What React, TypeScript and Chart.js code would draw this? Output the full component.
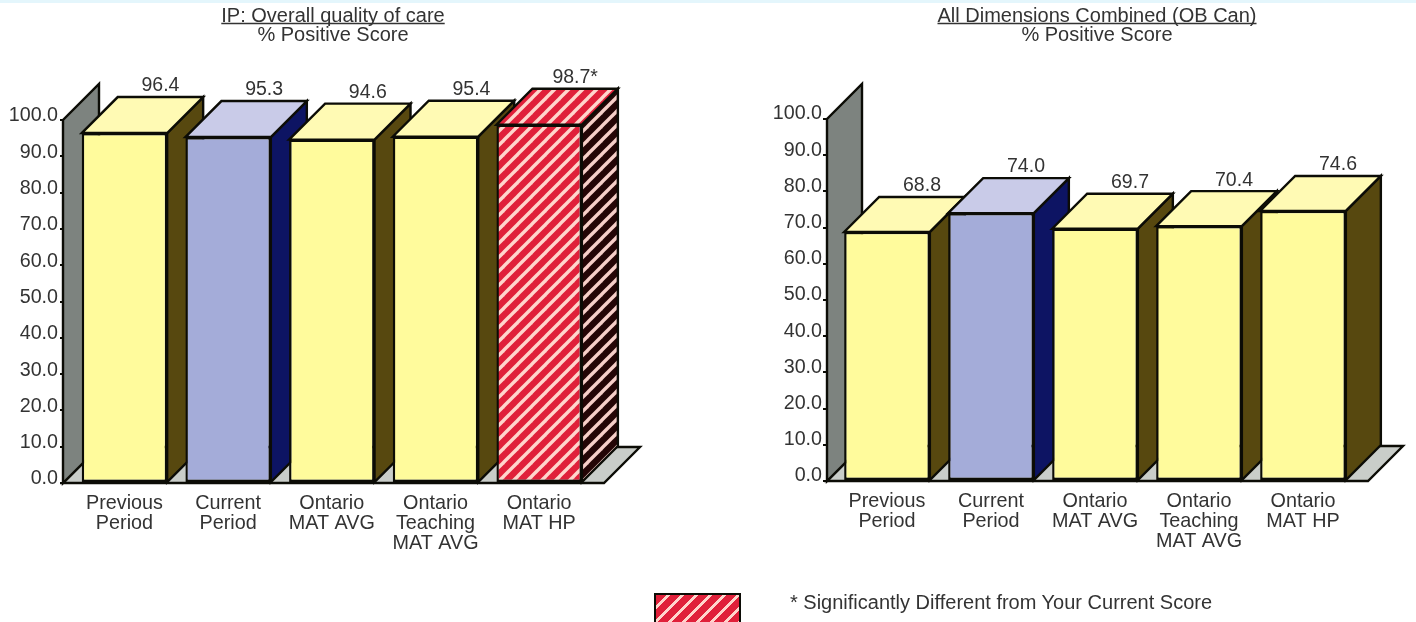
import React, { useEffect, useRef } from "react";
import { Chart, registerables } from "chart.js";

Chart.register(...registerables);

const categories = [
  ["Previous", "Period"],
  ["Current", "Period"],
  ["Ontario", "MAT AVG"],
  ["Ontario", "Teaching", "MAT AVG"],
  ["Ontario", "MAT HP"],
];
const leftValues = [96.4, 95.3, 94.6, 95.4, 98.7];
const rightValues = [68.8, 74.0, 69.7, 70.4, 74.6];
const leftFlags = ["", "", "", "", "*"];
const rightFlags = ["", "", "", "", ""];
const leftKinds = ["yellow", "blue", "yellow", "yellow", "hatch"];
const rightKinds = ["yellow", "blue", "yellow", "yellow", "yellow"];
const leftTitle = ["IP: Overall quality of care", "% Positive Score"];
const rightTitle = ["All Dimensions Combined (OB Can)", "% Positive Score"];
const footnote = "* Significantly Different from Your Current Score";

const FONT = "'Liberation Sans', Arial, sans-serif";
const INK = "#333333";
const LINE = "#0c0c06";

function hatch(base: string, stripe: string): CanvasPattern {
  const c = document.createElement("canvas");
  c.width = 14;
  c.height = 14;
  const g = c.getContext("2d")!;
  g.fillStyle = base;
  g.fillRect(0, 0, 14, 14);
  g.strokeStyle = stripe;
  g.lineWidth = 3.4;
  for (const o of [-14, 0, 14]) {
    g.beginPath();
    g.moveTo(o - 2, 16);
    g.lineTo(o + 16, -2);
    g.stroke();
  }
  return g.createPattern(c, "repeat")!;
}

function faces(kind: string) {
  if (kind === "blue") return { front: "#a4acd9", top: "#c9cbe8", side: "#0d1463" };
  if (kind === "hatch") {
    const red = hatch("#e0203a", "#ffd5cc");
    return { front: red, top: red, side: hatch("#240606", "#f6cfc8") };
  }
  return { front: "#fffb9c", top: "#fffab4", side: "#57480f" };
}

function poly(ctx: CanvasRenderingContext2D, pts: number[][], fill: any, lw = 2.4) {
  ctx.beginPath();
  pts.forEach((p, i) => (i ? ctx.lineTo(p[0], p[1]) : ctx.moveTo(p[0], p[1])));
  ctx.closePath();
  ctx.fillStyle = fill;
  ctx.fill();
  ctx.lineWidth = lw;
  ctx.lineJoin = "miter";
  ctx.strokeStyle = LINE;
  ctx.stroke();
}

type Spec = {
  values: number[];
  flags: string[];
  kinds: string[];
  title: string[];
  axisWidth: number;
  rightPad: number;
  axisHeight: number;
  titleGap: number;
  wallInset: number;
  floorExtra: number;
  depth: number;
  tickLength: number;
  tickPad: number;
  labelShift: number;
};

function makeChart(canvas: HTMLCanvasElement, s: Spec) {
  const looks = s.kinds.map(faces);
  const threeD = {
    id: "threeD",
    beforeDatasetsDraw(chart: any) {
      const { ctx, chartArea, scales } = chart;
      const d = s.depth;
      const x0 = chartArea.left - s.wallInset;
      const x1 = chartArea.right + s.floorExtra;
      const yb = scales.y.getPixelForValue(0);
      const yt = scales.y.getPixelForValue(100);
      ctx.save();
      poly(ctx, [[x0, yb], [x1, yb], [x1 + d, yb - d], [x0 + d, yb - d]], "#c9cdc9");
      poly(ctx, [[x0, yb], [x0, yt], [x0 + d, yt - d], [x0 + d, yb - d]], "#7d837f");
      chart.getDatasetMeta(0).data.forEach((bar: any, i: number) => {
        const p = bar.getProps(["x", "y", "base", "width"], true);
        const l = p.x - p.width / 2;
        const r = p.x + p.width / 2;
        poly(ctx, [[r, p.base], [r, p.y], [r + d, p.y - d], [r + d, p.base - d]], looks[i].side);
        poly(ctx, [[l, p.y], [r, p.y], [r + d, p.y - d], [l + d, p.y - d]], looks[i].top);
      });
      ctx.restore();
    },
    afterDatasetsDraw(chart: any) {
      const { ctx } = chart;
      ctx.save();
      ctx.font = `19.5px ${FONT}`;
      ctx.fillStyle = INK;
      ctx.textAlign = "center";
      ctx.textBaseline = "middle";
      chart.getDatasetMeta(0).data.forEach((bar: any, i: number) => {
        const p = bar.getProps(["x", "y"], true);
        ctx.fillText(s.values[i].toFixed(1) + s.flags[i], p.x + s.depth, p.y - s.depth - 11);
      });
      // underline of the title's first line
      ctx.font = `20px ${FONT}`;
      const w = ctx.measureText(s.title[0]).width;
      const cx = chart.width / 2;
      ctx.strokeStyle = INK;
      ctx.lineWidth = 1.3;
      ctx.beginPath();
      ctx.moveTo(cx - w / 2, 23.5);
      ctx.lineTo(cx + w / 2, 23.5);
      ctx.stroke();
      ctx.restore();
    },
  };

  return new Chart(canvas, {
    type: "bar",
    data: {
      labels: categories,
      datasets: [
        {
          data: s.values,
          backgroundColor: looks.map((l) => l.front),
          borderColor: LINE,
          borderWidth: 2.4,
          borderSkipped: false,
          categoryPercentage: 1,
          barPercentage: 0.824,
        },
      ],
    },
    plugins: [threeD],
    options: {
      animation: false,
      responsive: false,
      plugins: {
        legend: { display: false },
        tooltip: { enabled: false },
        title: {
          display: true,
          text: s.title,
          color: INK,
          font: { family: FONT, size: 20, weight: "normal", lineHeight: 0.975 },
          padding: { top: 6.5, bottom: s.titleGap },
        },
      },
      scales: {
        x: {
          afterFit: (a: any) => {
            a.height = s.axisHeight;
          },
          border: { display: false },
          grid: { display: false },
          ticks: {
            autoSkip: false,
            maxRotation: 0,
            minRotation: 0,
            color: INK,
            font: { family: FONT, size: 19.8, lineHeight: 1.01 },
            padding: 3,
          },
        },
        y: {
          min: 0,
          max: 100,
          afterFit: (a: any) => {
            a.width = s.axisWidth;
          },
          border: { display: false },
          grid: { drawOnChartArea: false, drawTicks: true, tickLength: s.tickLength, color: LINE, lineWidth: 2 },
          ticks: {
            stepSize: 10,
            color: INK,
            padding: s.tickPad,
            labelOffset: s.labelShift,
            font: { family: FONT, size: 19.7 },
            callback: (v: any) => Number(v).toFixed(1),
          },
        },
        // empty right-hand axis: reserves the room that the floor overhangs
        spare: {
          type: "linear",
          position: "right",
          afterFit: (a: any) => {
            a.width = s.rightPad;
          },
          border: { display: false },
          grid: { display: false },
          ticks: { display: false },
        },
      },
    } as any,
  });
}

export default function App() {
  const a = useRef<HTMLCanvasElement>(null);
  const b = useRef<HTMLCanvasElement>(null);
  useEffect(() => {
    const c1 = makeChart(a.current!, {
      values: leftValues,
      flags: leftFlags,
      kinds: leftKinds,
      title: leftTitle,
      axisWidth: 72.6,
      rightPad: 666 - 591,
      axisHeight: 622 - 483,
      titleGap: 74.5,
      wallInset: 9.6,
      floorExtra: 13,
      depth: 36,
      tickLength: 12.6,
      tickPad: 2,
      labelShift: -4,
    });
    const c2 = makeChart(b.current!, {
      values: rightValues,
      flags: rightFlags,
      kinds: rightKinds,
      title: rightTitle,
      axisWidth: 75,
      rightPad: 674 - 595,
      axisHeight: 622 - 481,
      titleGap: 73.5,
      wallInset: 8,
      floorExtra: 13,
      depth: 35,
      tickLength: 12,
      tickPad: 1,
      labelShift: -5,
    });
    return () => {
      c1.destroy();
      c2.destroy();
    };
  }, []);
  return (
    <div style={{ position: "absolute", left: 0, top: 0, width: 1416, height: 622, overflow: "hidden", background: "#fff" }}>
      <div style={{ position: "absolute", left: 0, top: 0, width: 1416, height: 3, background: "#e4f6fc" }} />
      <canvas ref={a} width={666} height={622} style={{ position: "absolute", left: 0, top: 0 }} />
      <canvas ref={b} width={674} height={622} style={{ position: "absolute", left: 760, top: 0 }} />
      <div
        style={{
          position: "absolute",
          left: 654,
          top: 593,
          width: 87,
          height: 40,
          boxSizing: "border-box",
          border: "2px solid #0c0c06",
          background: "repeating-linear-gradient(135deg, #e0203a 0px, #e0203a 7.2px, #ffd5cc 7.2px, #ffd5cc 9.9px)",
        }}
      />
      <div
        style={{
          position: "absolute",
          left: 790,
          top: 591,
          font: `20px ${FONT}`,
          lineHeight: "22px",
          color: INK,
          whiteSpace: "nowrap",
        }}
      >
        {footnote}
      </div>
    </div>
  );
}
